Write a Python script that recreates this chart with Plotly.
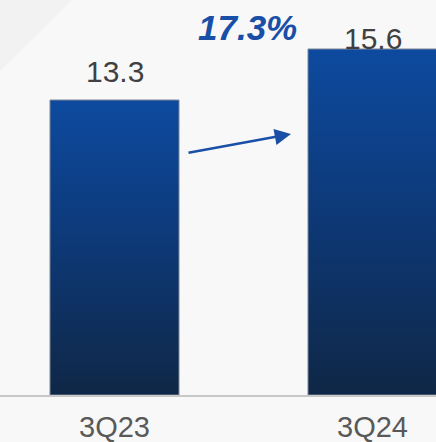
import plotly.graph_objects as go

# Quarterly values
quarters = ["3Q23", "3Q24"]
values = [13.3, 15.6]
growth_label = "17.3%"

BAR_HALF_WIDTH = 0.25
TOP_BLUE = "#0d4a9f"
BOTTOM_NAVY = "#0f2746"
ACCENT = "#1a4fa8"
FONT = "Liberation Sans, Arial, sans-serif"

fig = go.Figure()

# Bars drawn as filled polygons so each one can carry a vertical gradient
for i, (q, v) in enumerate(zip(quarters, values)):
    fig.add_trace(go.Scatter(
        x=[i - BAR_HALF_WIDTH, i - BAR_HALF_WIDTH, i + BAR_HALF_WIDTH, i + BAR_HALF_WIDTH, i - BAR_HALF_WIDTH],
        y=[0, v, v, 0, 0],
        mode="lines",
        line=dict(color="#7d8796", width=1),
        fill="toself",
        fillgradient=dict(type="vertical",
                          colorscale=[[0, BOTTOM_NAVY], [0.55, "#0d3a7a"], [1, TOP_BLUE]]),
        hoverinfo="skip",
        showlegend=False,
        name=q,
    ))

# Value labels above bars
label_shift = [29, 11]
for i, v in enumerate(values):
    fig.add_annotation(x=i, y=v, text=f"{v:.1f}", showarrow=False,
                       xanchor="center", yanchor="middle", yshift=label_shift[i],
                       font=dict(family=FONT, size=30, color="#404040"))

# Category labels under the baseline
for i, q in enumerate(quarters):
    fig.add_annotation(x=i, y=0, text=q, showarrow=False,
                       xanchor="center", yanchor="middle", yshift=-32,
                       font=dict(family=FONT, size=29, color="#595959"))

# Growth arrow between the bars
fig.add_annotation(x=0.684, y=11.77, ax=0.281, ay=10.91,
                   xref="x", yref="y", axref="x", ayref="y",
                   showarrow=True, arrowhead=2, arrowsize=1.3,
                   arrowwidth=2.5, arrowcolor=ACCENT, text="")

fig.add_annotation(x=0.515, y=1, xref="x", yref="paper", text=f"<b><i>{growth_label}</i></b>",
                   showarrow=False, xanchor="center", yanchor="middle", yshift=-27,
                   font=dict(family=FONT, size=35, color=ACCENT))

# Faint corner shading of the backdrop
fig.add_shape(type="path", xref="paper", yref="paper",
              path="M 0 1 L 0.165 1 L 0 0.82 Z",
              fillcolor="#f2f2f2", line=dict(width=0), layer="below")

fig.update_layout(
    width=436, height=442,
    margin=dict(l=0, r=0, t=0, b=47),
    paper_bgcolor="#f8f8f8",
    plot_bgcolor="rgba(0,0,0,0)",
    showlegend=False,
    xaxis=dict(range=[-0.4438, 1.2461], showgrid=False, zeroline=False,
               showticklabels=False, ticks="", showline=True,
               linecolor="#c8c8c8", linewidth=2, fixedrange=True),
    yaxis=dict(range=[0, 17.81], showgrid=False, zeroline=False,
               showticklabels=False, ticks="", showline=False, fixedrange=True),
)

fig.write_html("out.html")
